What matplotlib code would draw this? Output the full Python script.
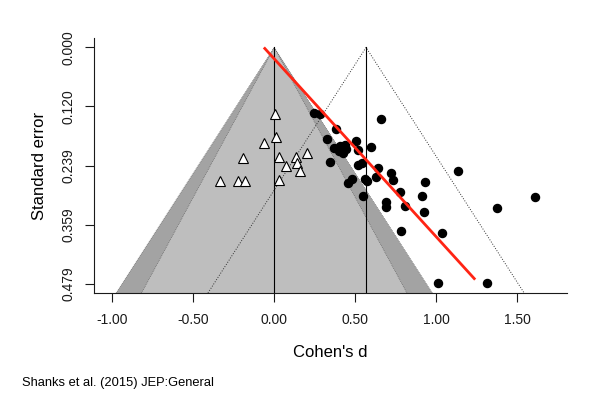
import matplotlib.pyplot as plt
import numpy as np

plt.rcParams['font.family'] = ['Liberation Sans', 'DejaVu Sans']

# observed studies: Cohen's d and standard error
obs_d = [0.245, 0.285, 0.657, 0.379, 0.323, 0.504, 0.372, 0.406, 0.436, 0.399,
         0.424, 0.443, 0.519, 0.595, 0.344, 0.520, 0.541, 0.639, 0.720, 1.132,
         0.631, 0.560, 0.574, 0.481, 0.453, 0.733, 0.928, 0.778, 0.546, 0.914,
         1.611, 0.688, 0.688, 0.807, 1.373, 0.924, 0.780, 1.037, 1.009, 1.317]
obs_se = [0.134, 0.135, 0.145, 0.166, 0.186, 0.190, 0.204, 0.200, 0.197, 0.210,
          0.214, 0.206, 0.209, 0.201, 0.233, 0.239, 0.235, 0.244, 0.254, 0.250,
          0.263, 0.266, 0.271, 0.267, 0.276, 0.269, 0.272, 0.294, 0.301, 0.301,
          0.304, 0.314, 0.324, 0.322, 0.326, 0.333, 0.373, 0.376, 0.477, 0.478]

# trim-and-fill imputed studies
fill_d = [0.004, 0.009, -0.065, -0.193, 0.027, 0.132, 0.200, 0.070, 0.142,
          0.157, -0.335, -0.224, -0.183, 0.027]
fill_se = [0.135, 0.182, 0.193, 0.224, 0.223, 0.223, 0.214, 0.241, 0.235,
           0.250, 0.270, 0.270, 0.270, 0.268]

est_d = 0.567          # pooled estimate
fit_d = [-0.064, 1.241]  # regression line (red)
fit_se = [0.0, 0.471]

se_ticks = [0.0, 0.11975, 0.2395, 0.35925, 0.479]
se_labels = ['0.000', '0.120', '0.239', '0.359', '0.479']
d_ticks = [-1.0, -0.5, 0.0, 0.5, 1.0, 1.5]
d_labels = ['-1.00', '-0.50', '0.00', '0.50', '1.00', '1.50']

fig = plt.figure(figsize=(5.93, 3.99), dpi=100)
ax = fig.add_axes([94/593, 1-293/399, 473/593, 255/399])

ymax = 0.479 * 1.04
ymin = -0.479 * 0.04
ax.set_xlim(-1.113, 1.808)
ax.set_ylim(ymax, ymin)

# contour-enhanced funnel around zero
z_out, z_in = 1.96, 1.645
ax.fill([0, -z_out*ymax, z_out*ymax], [0, ymax, ymax], color='#a3a3a3', lw=0, zorder=1)
ax.fill([0, -z_in*ymax, z_in*ymax], [0, ymax, ymax], color='#bebebe', lw=0, zorder=2)
for z in (z_out, z_in):
    ax.plot([-z*ymax, 0, z*ymax], [ymax, 0, ymax], ls=':', lw=0.5, color='#555555', zorder=3)
ax.plot([0, 0], [0, ymax], color='black', lw=0.8, zorder=3)

# funnel around the estimate
ax.plot([est_d - z_out*ymax, est_d, est_d + z_out*ymax], [ymax, 0, ymax],
        ls=':', lw=0.7, color='#333333', zorder=3)
ax.plot([est_d, est_d], [0, ymax], color='black', lw=0.8, zorder=3)

ax.plot(fill_d, fill_se, ls='none', marker='^', ms=7.5, mfc='white', mec='black',
        mew=0.8, zorder=4)
ax.plot(obs_d, obs_se, ls='none', marker='o', ms=5.8, mfc='black', mec='black', zorder=5)
ax.plot(fit_d, fit_se, color='#ff2414', lw=2.0, solid_capstyle='butt', zorder=6)

ax.set_xticks(d_ticks)
ax.set_xticklabels(d_labels)
ax.set_yticks(se_ticks)
ax.set_yticklabels(se_labels, rotation=90, va='center')
ax.tick_params(axis='x', length=6.5, width=0.8, pad=8, labelsize=10, colors='#1a1a1a')
ax.tick_params(axis='y', length=6.5, width=0.8, pad=7, labelsize=10, colors='#1a1a1a')
for s in ('top', 'right'):
    ax.spines[s].set_visible(False)
for s in ('left', 'bottom'):
    ax.spines[s].set_linewidth(0.8)
    ax.spines[s].set_color('#1a1a1a')

ax.set_xlabel("Cohen's d", fontsize=12, labelpad=13)
ax.set_ylabel('Standard error', fontsize=12, labelpad=10)

fig.text(22/593, 1-383/399, 'Shanks et al. (2015) JEP:General', fontsize=9.3,
         va='center', ha='left')

fig.savefig('out.png', dpi=100)
